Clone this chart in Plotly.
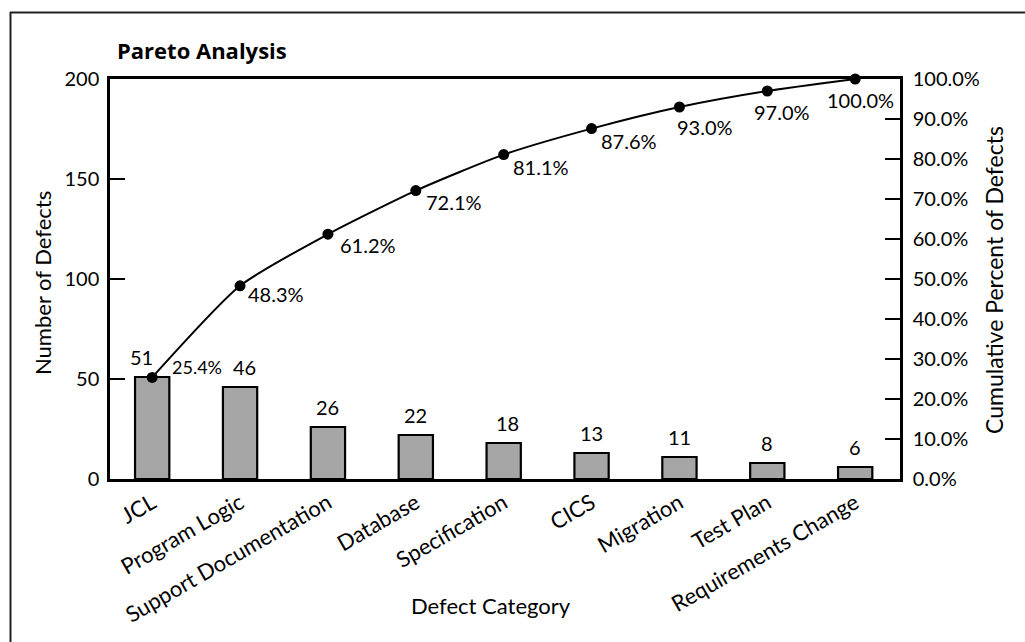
import plotly.graph_objects as go

# Defect categories, counts and cumulative share (%)
categories = ["JCL", "Program Logic", "Support Documentation", "Database",
              "Specification", "CICS", "Migration", "Test Plan",
              "Requirements Change"]
defect_counts = [51, 46, 26, 22, 18, 13, 11, 8, 6]
cumulative_pct = [25.4, 48.3, 61.2, 72.1, 81.1, 87.6, 93.0, 97.0, 100.0]
count_ticks = [0, 50, 100, 150, 200]
pct_ticks = [0, 10, 20, 30, 40, 50, 60, 70, 80, 90, 100]
pct_tick_labels = [f"{v:.1f}%" for v in pct_ticks]

FONT = "Lato, 'Open Sans', sans-serif"
NUM_FS = 20      # numbers (ticks, value labels)
TXT_FS = 22      # words (categories, axis titles)

# pixel geometry of the plotting area
W, H = 1025, 642
L, R, T, B = 110, 900, 79, 479
PW, PH = R - L, B - T


def px_x(p):
    return (p - L) / PW


def px_y(p):
    return (B - p) / PH


fig = go.Figure()

fig.add_trace(go.Bar(
    x=categories, y=defect_counts, width=0.39,
    marker=dict(color="#a6a6a6", line=dict(color="black", width=2.2)),
    yaxis="y", hoverinfo="x+y", showlegend=False,
))

fig.add_trace(go.Scatter(
    x=categories, y=cumulative_pct, yaxis="y2",
    mode="lines+markers", line=dict(color="black", width=2, shape="spline", smoothing=0.6),
    marker=dict(color="black", size=11), showlegend=False, cliponaxis=False,
))

annotations = []

# count labels above each bar
count_xshift = [-11, 4, 0, 0, 4, 0, 0, 0, 0]
for cat, n, dx in zip(categories, defect_counts, count_xshift):
    annotations.append(dict(
        x=cat, y=n, xref="x", yref="y", text=str(n), showarrow=False,
        xanchor="center", yanchor="bottom", xshift=dx, yshift=6,
        font=dict(family=FONT, size=NUM_FS, color="black")))

# cumulative percentage labels next to each point
pct_offsets = [(18, 10), (6, -8), (10, -11), (8, -11), (7, -12),
               (7, -12), (-4, -20), (-15, -21), (-30, -21)]
pct_sizes = [18, 20, 20, 20, 20, 20, 20, 20, 20]
for cat, p, (dx, dy), fs in zip(categories, cumulative_pct, pct_offsets, pct_sizes):
    annotations.append(dict(
        x=cat, y=p, xref="x", yref="y2", text=f"{p:.1f}%", showarrow=False,
        xanchor="left", yanchor="middle", xshift=dx, yshift=dy,
        font=dict(family=FONT, size=fs, color="black")))

# chart title and axis titles
annotations += [
    dict(x=px_x(115), y=px_y(50), xref="paper", yref="paper",
         text="<b>Pareto Analysis</b>", showarrow=False,
         xanchor="left", yanchor="middle",
         font=dict(family="'Open Sans', Lato, sans-serif", size=22, color="black")),
    dict(x=px_x(42), y=px_y(283), xref="paper", yref="paper",
         text="Number of Defects", showarrow=False, textangle=-90,
         xanchor="center", yanchor="middle",
         font=dict(family=FONT, size=TXT_FS, color="black")),
    dict(x=px_x(994), y=px_y(280), xref="paper", yref="paper",
         text="Cumulative Percent of Defects", showarrow=False, textangle=-90,
         xanchor="center", yanchor="middle",
         font=dict(family=FONT, size=23, color="black")),
    dict(x=px_x(491), y=px_y(605), xref="paper", yref="paper",
         text="Defect Category", showarrow=False,
         xanchor="center", yanchor="middle",
         font=dict(family=FONT, size=TXT_FS, color="black")),
]

# outer frame (top and left edges)
shapes = [
    dict(type="line", xref="paper", yref="paper",
         x0=px_x(10), x1=px_x(1030), y0=px_y(12.5), y1=px_y(12.5),
         line=dict(color="#222", width=2)),
    dict(type="line", xref="paper", yref="paper",
         x0=px_x(10.5), x1=px_x(10.5), y0=px_y(12), y1=px_y(650),
         line=dict(color="#222", width=2)),
]

fig.update_layout(
    width=W, height=H,
    margin=dict(l=L, r=W - R, t=T, b=H - B, pad=0),
    paper_bgcolor="white", plot_bgcolor="white",
    font=dict(family=FONT, size=NUM_FS, color="black"),
    xaxis=dict(
        range=[-0.48, 8.51],
        showgrid=False, showline=True, linecolor="black", linewidth=2.5,
        mirror=True, ticks="", tickangle=-30, tickfont=dict(size=TXT_FS),
        zeroline=False,
    ),
    yaxis=dict(
        range=[0, 200], tickvals=count_ticks, showgrid=False, zeroline=False,
        showline=True, linecolor="black", linewidth=2.5, mirror=True,
        ticks="inside", ticklen=15, tickwidth=1.5, tickcolor="black",
        tickfont=dict(size=NUM_FS), ticklabelstandoff=4,
    ),
    yaxis2=dict(
        range=[0, 100], tickvals=pct_ticks, ticktext=pct_tick_labels,
        overlaying="y", side="right",
        showgrid=False, zeroline=False, showline=True, linecolor="black",
        linewidth=2.5, ticks="inside", ticklen=15, tickwidth=1.5,
        tickcolor="black", tickfont=dict(size=NUM_FS), ticklabelstandoff=6,
    ),
    annotations=annotations,
    shapes=shapes,
    showlegend=False,
)

fig.write_html("out.html")
